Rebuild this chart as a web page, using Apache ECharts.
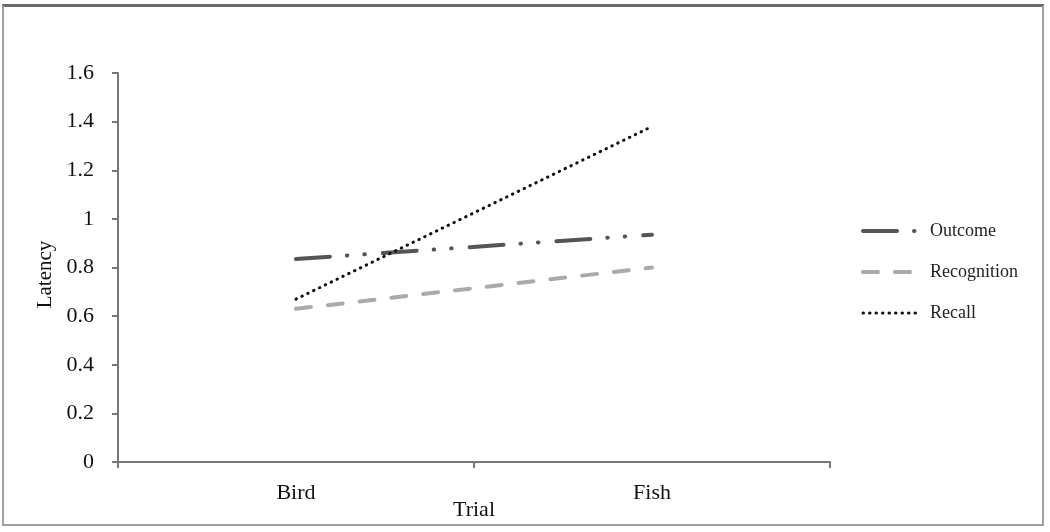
<!DOCTYPE html>
<html>
<head>
    <meta charset="utf-8">
    <title>Latency by Trial</title>
    <script src="https://cdn.jsdelivr.net/npm/echarts@6/dist/echarts.min.js"></script>
    <style>
        body{margin:0;background:#fff;}
        #main{width:1050px;height:532px;position:relative;}
        #frame{position:absolute;left:2px;top:4px;width:1038px;height:517px;
            border:2px solid #a0a0a0;border-top:3px solid #6a6a6a;pointer-events:none;}
    </style>
</head>
<body>
<div style="position:relative;width:1050px;height:532px;">
    <div id="main"></div>
    <div id="frame"></div>
</div>
<script type="text/javascript">
    // data
    var trials = ['Bird', 'Fish'];
    var outcome = [0.835, 0.935];
    var recognition = [0.63, 0.80];
    var recall = [0.67, 1.38];
    var yTicks = [0, 0.2, 0.4, 0.6, 0.8, 1, 1.2, 1.4, 1.6];

    var serif = '"Liberation Serif", "DejaVu Serif", serif';
    var hidden = {color: 'transparent', borderColor: 'transparent', borderWidth: 0};

    var myChart = echarts.init(document.getElementById('main'));

    var option = {
        backgroundColor: '#fff',
        animation: false,
        grid: {left: 118, right: 220, top: 73, bottom: 70, outerBoundsMode: 'none', containLabel: false},
        legend: {
            orient: 'vertical',
            left: 856,
            top: 217,
            itemWidth: 58,
            itemHeight: 14,
            itemGap: 23,
            itemStyle: hidden,
            textStyle: {fontFamily: serif, fontSize: 18, color: '#222', padding: [0, 0, 0, 4]},
            data: [
                {name: 'Outcome', itemStyle: hidden, lineStyle: {width: 4}},
                {name: 'Recognition', itemStyle: hidden, lineStyle: {width: 4}},
                {name: 'Recall', itemStyle: hidden, lineStyle: {width: 3}}
            ]
        },
        xAxis: {
            type: 'category',
            data: trials,
            boundaryGap: true,
            name: 'Trial',
            nameLocation: 'middle',
            nameGap: 37,
            nameMoveOverlap: false,
            nameTextStyle: {fontFamily: serif, fontSize: 22, color: '#111'},
            axisLine: {lineStyle: {color: '#777', width: 2}},
            axisTick: {show: true, length: 6, lineStyle: {color: '#777', width: 2}},
            axisLabel: {fontFamily: serif, fontSize: 22, color: '#111', margin: 20}
        },
        yAxis: {
            type: 'value',
            min: yTicks[0],
            max: yTicks[yTicks.length - 1],
            interval: 0.2,
            name: 'Latency',
            nameLocation: 'middle',
            nameGap: 62,
            nameMoveOverlap: false,
            nameRotate: 90,
            nameTextStyle: {fontFamily: serif, fontSize: 21, color: '#111', padding: [0, 14, 0, 0]},
            splitLine: {show: false},
            axisLine: {show: true, lineStyle: {color: '#777', width: 2}},
            axisTick: {show: true, length: 6, lineStyle: {color: '#777', width: 2}},
            axisLabel: {
                fontFamily: serif, fontSize: 22, color: '#111', margin: 24,
                formatter: function (v) { return String(Math.round(v * 10) / 10); }
            }
        },
        series: [{
            name: 'Outcome',
            type: 'line',
            data: outcome,
            symbol: 'none',
            itemStyle: {color: '#555'},
            lineStyle: {color: '#555', width: 4, cap: 'round', type: [34, 17, 0.5, 17, 0.5, 18]}
        }, {
            name: 'Recognition',
            type: 'line',
            data: recognition,
            symbol: 'none',
            itemStyle: {color: '#aaa'},
            lineStyle: {color: '#aaa', width: 4, cap: 'round', type: [15, 17]}
        }, {
            name: 'Recall',
            type: 'line',
            data: recall,
            symbol: 'none',
            itemStyle: {color: '#111'},
            lineStyle: {color: '#111', width: 3, cap: 'round', type: [0.5, 6]}
        }]
    };

    myChart.setOption(option);
</script>
</body>
</html>
